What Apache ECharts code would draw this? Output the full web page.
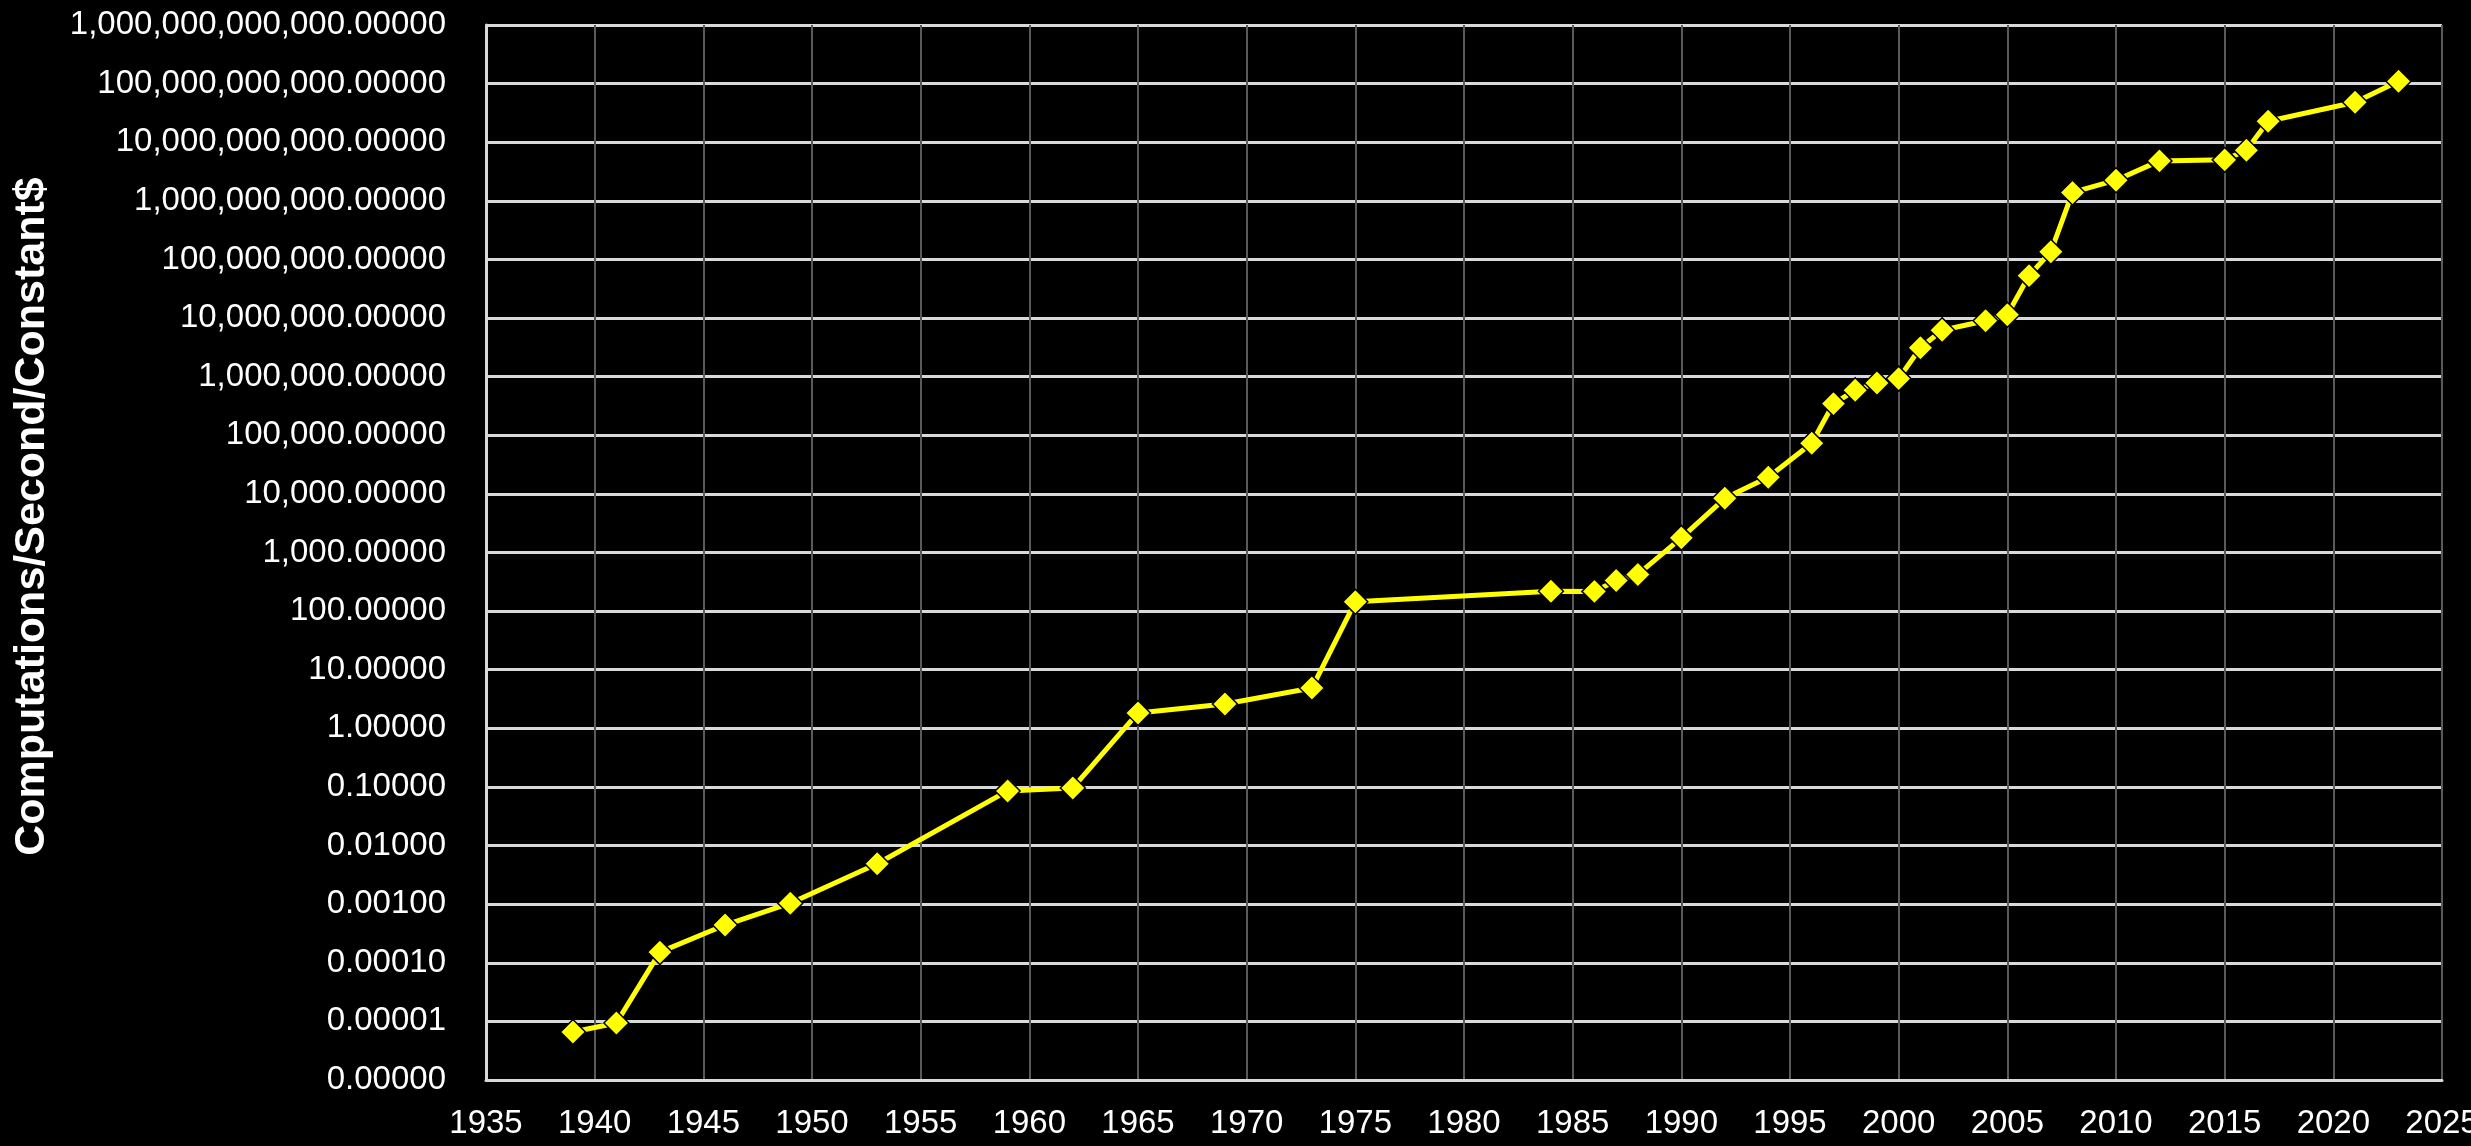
<!DOCTYPE html>
<html>
<head>
<meta charset="utf-8">
<script src="https://cdn.jsdelivr.net/npm/echarts@6/dist/echarts.min.js"></script>
<style>
  html, body { margin: 0; padding: 0; background: #000; }
  #main { width: 2471px; height: 1146px; }
</style>
</head>
<body>
<div id="main"></div>
<script>
// years and computations/second/constant$
var years = [1939, 1941, 1943, 1946, 1949, 1953, 1959, 1962, 1965, 1969, 1973, 1975,
  1984, 1986, 1987, 1988, 1990, 1992, 1994, 1996, 1997, 1998, 1999, 2000,
  2001, 2002, 2004, 2005, 2006, 2007, 2008, 2010, 2012, 2015, 2016, 2017, 2021, 2023];
var values = [6.6e-6, 9.4e-6, 1.52e-4, 4.4e-4, 1.04e-3, 4.9e-3, 0.0855, 0.096, 1.83, 2.6, 4.87, 144,
  219, 217, 333, 422, 1778, 8.4e3, 1.92e4, 7.3e4, 3.47e5, 5.85e5, 7.8e5, 9.25e5,
  3.12e6, 6.2e6, 9.0e6, 1.14e7, 5.3e7, 1.35e8, 1.39e9, 2.25e9, 4.8e9, 5.0e9, 7.3e9, 2.28e10, 4.8e10, 1.1e11];

// y tick labels, one per decade from 1e-6 up to 1e12
var yTickLabels = [
  "0.00000", "0.00001", "0.00010", "0.00100", "0.01000", "0.10000", "1.00000",
  "10.00000", "100.00000", "1,000.00000", "10,000.00000", "100,000.00000",
  "1,000,000.00000", "10,000,000.00000", "100,000,000.00000", "1,000,000,000.00000",
  "10,000,000,000.00000", "100,000,000,000.00000", "1,000,000,000,000.00000"
];

var data = [];
years.forEach(function (y, i) {
  data.push([y, values[i]]);
});

var myChart = echarts.init(document.getElementById("main"));
var font = "'Liberation Sans', Arial, sans-serif";

var option = {
  backgroundColor: "#000000",
  animation: false,
  grid: {
    left: 486,
    right: 29,
    top: 25,
    bottom: 66,
    containLabel: false,
    outerBoundsMode: "none"
  },
  xAxis: {
    type: "value",
    min: 1935,
    max: 2025,
    interval: 5,
    axisLine: { show: true, lineStyle: { color: "#d9d9d9", width: 3 } },
    axisTick: { show: false },
    axisLabel: {
      color: "#ffffff",
      fontSize: 33,
      fontFamily: font,
      margin: 27,
      formatter: function (v) { return String(v); }
    },
    splitLine: { show: true, lineStyle: { color: "#5a5a5a", width: 2 } }
  },
  yAxis: {
    type: "log",
    logBase: 10,
    min: 1e-6,
    max: 1e12,
    interval: 1,
    splitNumber: 18,
    name: "Computations/Second/Constant$",
    nameLocation: "middle",
    nameGap: 432,
    nameTextStyle: {
      color: "#ffffff",
      fontSize: 43,
      fontWeight: "bold",
      fontFamily: font,
      padding: [0, 0, 0, 72] // nudges the rotated title upward
    },
    axisLine: { show: true, lineStyle: { color: "#d9d9d9", width: 3 } },
    axisTick: { show: false },
    axisLabel: {
      color: "#ffffff",
      fontSize: 33,
      fontFamily: font,
      margin: 40,
      formatter: function (v) {
        var e = Math.round(Math.log10(v));
        return yTickLabels[e + 6];
      }
    },
    splitLine: { show: true, lineStyle: { color: "#d9d9d9", width: 3 } }
  },
  series: [
    {
      type: "line",
      data: data,
      symbol: "diamond",
      symbolSize: 25,
      lineStyle: { color: "#ffff00", width: 5 },
      itemStyle: { color: "#ffff00", borderColor: "#000000", borderWidth: 1.5 }
    }
  ]
};

myChart.setOption(option);
</script>
</body>
</html>
